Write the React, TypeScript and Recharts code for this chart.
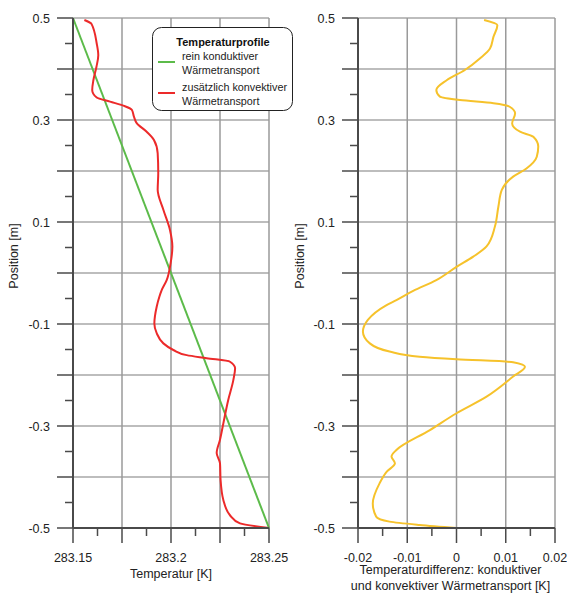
import { CartesianGrid, Label, Legend, Line, LineChart, XAxis, YAxis } from 'recharts';

const FONT = 'Liberation Sans, Arial, sans-serif';

// y axis (position) - shared by both panels
const positionTicks = [0.5, 0.45, 0.4, 0.35, 0.3, 0.25, 0.2, 0.15, 0.1, 0.05, 0, -0.05, -0.1, -0.15, -0.2, -0.25, -0.3, -0.35, -0.4, -0.45, -0.5];
const positionMajor = [0.5, 0.4, 0.3, 0.2, 0.1, 0, -0.1, -0.2, -0.3, -0.4, -0.5];
const positionLabels = [0.5, 0.3, 0.1, -0.1, -0.3, -0.5];

// left panel: temperature
const tempTicks = [283.15, 283.1625, 283.175, 283.1875, 283.2, 283.2125, 283.225, 283.2375, 283.25];
const tempMajor = [283.15, 283.175, 283.2, 283.225, 283.25];
const tempLabels = [283.15, 283.2, 283.25];

// right panel: difference
const diffTicks = [-0.02, -0.015, -0.01, -0.005, 0, 0.005, 0.01, 0.015, 0.02];
const diffMajor = [-0.02, -0.01, 0, 0.01, 0.02];
const diffLabels = [-0.02, -0.01, 0, 0.01, 0.02];

// rein konduktiver Wärmetransport
const conductivePos = [0.5, -0.5];
const conductiveTemp = [283.15, 283.25];

// zusätzlich konvektiver Wärmetransport
const convectivePos = [
  0.496, 0.488, 0.45, 0.427, 0.405, 0.378, 0.359, 0.344, 0.336, 0.327, 0.32, 0.3065, 0.294, 0.277, 0.261,
  0.235, 0.196, 0.163, 0.124, 0.084, 0.052, 0.019, -0.014, -0.034, -0.046, -0.066, -0.099, -0.118, -0.138,
  -0.151, -0.161, -0.167, -0.174, -0.187, -0.21, -0.249, -0.295, -0.327, -0.353, -0.373, -0.406, -0.445,
  -0.475, -0.491, -0.5,
];
const convectiveTemp = [
  283.1558, 283.1595, 283.1621, 283.1629, 283.162, 283.1604, 283.1598, 283.1621, 283.1689, 283.1765, 283.18,
  283.1811, 283.1825, 283.1876, 283.1913, 283.1932, 283.1935, 283.1932, 283.1961, 283.1995, 283.2007,
  283.1998, 283.1978, 283.1952, 283.1941, 283.1927, 283.1915, 283.1927, 283.1961, 283.2012, 283.208,
  283.2182, 283.2301, 283.2327, 283.2318, 283.2292, 283.2267, 283.225, 283.2233, 283.225, 283.2253,
  283.2267, 283.2301, 283.2352, 283.25,
];

// Temperaturdifferenz
const diffPos = [
  0.496, 0.486, 0.463, 0.44, 0.421, 0.398, 0.378, 0.359, 0.346, 0.339, 0.333, 0.326, 0.313, 0.293, 0.277,
  0.267, 0.248, 0.228, 0.205, 0.189, 0.163, 0.13, 0.091, 0.052, 0.032, 0.012, -0.014, -0.035, -0.053,
  -0.063, -0.092, -0.115, -0.138, -0.154, -0.164, -0.169, -0.175, -0.184, -0.203, -0.2425, -0.275, -0.308,
  -0.347, -0.36, -0.373, -0.39, -0.412, -0.452, -0.478, -0.4875, -0.494, -0.5,
];
const diffValues = [
  0.0056, 0.0083, 0.0075, 0.0068, 0.0048, 0.0017, -0.002, -0.0041, -0.0034, 0.0007, 0.0075, 0.0108, 0.0119,
  0.0113, 0.0129, 0.0156, 0.0166, 0.0163, 0.0142, 0.0115, 0.0092, 0.0085, 0.0078, 0.0061, 0.0034, 0.0,
  -0.0041, -0.0088, -0.0122, -0.0142, -0.018, -0.019, -0.0176, -0.0136, -0.0075, 0.0, 0.0115, 0.0139,
  0.0115, 0.0061, 0.0, -0.0054, -0.0122, -0.0132, -0.0125, -0.0142, -0.0156, -0.017, -0.0163, -0.0136,
  -0.0075, 0.0,
];

const conductiveData = conductivePos.map((pos, i) => ({ pos, temp: conductiveTemp[i] }));
const convectiveData = convectivePos.map((pos, i) => ({ pos, temp: convectiveTemp[i] }));
const diffData = diffPos.map((pos, i) => ({ pos, diff: diffValues[i] }));

const GREEN = '#5cbb4a';
const RED = '#ec2a2a';
const YELLOW = '#f6c22b';
const AXIS = '#4a4a4a';
const TEXT_SIZE = 12.5;

const has = (list: number[], v: number) => list.some((t) => Math.abs(t - v) < 1e-6);
const fmt = (v: number) => String(Number(v.toFixed(4)));

const makeYTick = (major: number[], labels: number[]) => (props: any) => {
  const { x, y, payload } = props;
  const v = payload.value;
  const len = has(major, v) ? 16 : 8;
  return (
    <g>
      <line x1={x - len} x2={x} y1={y} y2={y} stroke={AXIS} strokeWidth={1.5} />
      {has(labels, v) && (
        <text x={x - 23} y={y} dy={4.5} textAnchor="end" fontSize={TEXT_SIZE} fill="#222" fontFamily={FONT}>
          {fmt(v)}
        </text>
      )}
    </g>
  );
};

const makeXTick = (major: number[], labels: number[]) => (props: any) => {
  const { x, y, payload } = props;
  const v = payload.value;
  const len = has(major, v) ? 15 : 8;
  return (
    <g>
      <line x1={x} x2={x} y1={y} y2={y + len} stroke={AXIS} strokeWidth={1.5} />
      {has(labels, v) && (
        <text x={x} y={y + 29} dy={4.5} textAnchor="middle" fontSize={TEXT_SIZE} fill="#222" fontFamily={FONT}>
          {fmt(v)}
        </text>
      )}
    </g>
  );
};

const PositionLabel = (dx: number) => (props: any) => {
  const { viewBox } = props;
  const cx = viewBox.x + dx;
  const cy = viewBox.y + viewBox.height / 2 - 17;
  return (
    <text x={cx} y={cy} transform={`rotate(-90 ${cx} ${cy})`} textAnchor="middle" dy={4} fontSize={TEXT_SIZE} fill="#222" fontFamily={FONT}>
      Position [m]
    </text>
  );
};

const TempLabel = (props: any) => {
  const { viewBox } = props;
  const cx = viewBox.x + viewBox.width / 2;
  return (
    <text x={cx} y={viewBox.y + 50} textAnchor="middle" fontSize={TEXT_SIZE} fill="#222" fontFamily={FONT}>
      Temperatur [K]
    </text>
  );
};

const DiffLabel = (props: any) => {
  const { viewBox } = props;
  const cx = viewBox.x + viewBox.width / 2 - 6;
  return (
    <text textAnchor="middle" fontSize={TEXT_SIZE} fill="#222" fontFamily={FONT}>
      <tspan x={cx} y={viewBox.y + 46}>Temperaturdifferenz: konduktiver</tspan>
      <tspan x={cx} y={viewBox.y + 62}>und konvektiver Wärmetransport [K]</tspan>
    </text>
  );
};

const LegendBox = () => (
  <svg width={142} height={85} style={{ display: 'block' }}>
    <rect x={0.5} y={0.5} width={140} height={83} rx={9} fill="#fff" stroke="#222" strokeWidth={1} />
    <text x={71} y={19} textAnchor="middle" fontSize={11} fontWeight="bold" fill="#111" fontFamily={FONT}>
      Temperaturprofile
    </text>
    <line x1={6} x2={23} y1={35} y2={35} stroke={GREEN} strokeWidth={2} />
    <text fontSize={10.8} fill="#222" fontFamily={FONT}>
      <tspan x={30} y={33}>rein konduktiver</tspan>
      <tspan x={30} y={47}>Wärmetransport</tspan>
    </text>
    <line x1={6} x2={23} y1={66} y2={66} stroke={RED} strokeWidth={2} />
    <text fontSize={10.8} fill="#222" fontFamily={FONT}>
      <tspan x={30} y={64}>zusätzlich konvektiver</tspan>
      <tspan x={30} y={78}>Wärmetransport</tspan>
    </text>
  </svg>
);

export default function App() {
  return (
    <div style={{ position: 'absolute', left: 0, top: 0, width: 567, height: 594, background: '#fff', fontFamily: FONT }}>
      <div style={{ position: 'absolute', left: 0, top: 0 }}>
        <LineChart width={300} height={594} layout="vertical" margin={{ top: 18, right: 31, bottom: 0, left: 0 }}>
          <CartesianGrid vertical={false} horizontalValues={positionMajor} stroke="#bdbdbd" strokeWidth={2} />
          <CartesianGrid horizontal={false} verticalValues={tempMajor} stroke="#9a9a9a" strokeWidth={1.5} />
          <XAxis
            type="number"
            dataKey="temp"
            domain={[283.15, 283.25]}
            ticks={tempTicks}
            interval={0}
            height={66}
            tickSize={0}
            tickMargin={0}
            tick={makeXTick(tempMajor, tempLabels)}
            axisLine={{ stroke: AXIS, strokeWidth: 2 }}
          >
            <Label content={TempLabel} />
          </XAxis>
          <YAxis
            type="number"
            dataKey="pos"
            domain={[-0.5, 0.5]}
            reversed
            ticks={positionTicks}
            interval={0}
            width={73}
            tickSize={0}
            tickMargin={0}
            tick={makeYTick(positionMajor, positionLabels)}
            axisLine={{ stroke: AXIS, strokeWidth: 2 }}
          >
            <Label content={PositionLabel(14)} />
          </YAxis>
          <Legend
            layout="vertical"
            align="center"
            verticalAlign="middle"
            content={LegendBox}
            wrapperStyle={{ left: 152, top: 27, width: 142 }}
          />
          <Line
            data={conductiveData}
            dataKey="temp"
            name="rein konduktiver Wärmetransport"
            type="linear"
            stroke={GREEN}
            strokeWidth={2}
            dot={false}
            isAnimationActive={false}
          />
          <Line
            data={convectiveData}
            dataKey="temp"
            name="zusätzlich konvektiver Wärmetransport"
            type="monotone"
            stroke={RED}
            strokeWidth={2}
            dot={false}
            isAnimationActive={false}
          />
        </LineChart>
      </div>
      <div style={{ position: 'absolute', left: 290, top: 0 }}>
        <LineChart width={277} height={594} layout="vertical" data={diffData} margin={{ top: 18, right: 12, bottom: 0, left: 0 }}>
          <CartesianGrid vertical={false} horizontalValues={positionMajor} stroke="#bdbdbd" strokeWidth={2} />
          <CartesianGrid horizontal={false} verticalValues={diffMajor} stroke="#9a9a9a" strokeWidth={1.5} />
          <XAxis
            type="number"
            dataKey="diff"
            domain={[-0.02, 0.02]}
            ticks={diffTicks}
            interval={0}
            height={66}
            tickSize={0}
            tickMargin={0}
            tick={makeXTick(diffMajor, diffLabels)}
            axisLine={{ stroke: AXIS, strokeWidth: 2 }}
          >
            <Label content={DiffLabel} />
          </XAxis>
          <YAxis
            type="number"
            dataKey="pos"
            domain={[-0.5, 0.5]}
            reversed
            ticks={positionTicks}
            interval={0}
            width={68}
            tickSize={0}
            tickMargin={0}
            tick={makeYTick(positionMajor, positionLabels)}
            axisLine={{ stroke: AXIS, strokeWidth: 2 }}
          >
            <Label content={PositionLabel(10)} />
          </YAxis>
          <Line
            dataKey="diff"
            name="Temperaturdifferenz"
            type="monotone"
            stroke={YELLOW}
            strokeWidth={2}
            dot={false}
            isAnimationActive={false}
          />
        </LineChart>
      </div>
    </div>
  );
}
